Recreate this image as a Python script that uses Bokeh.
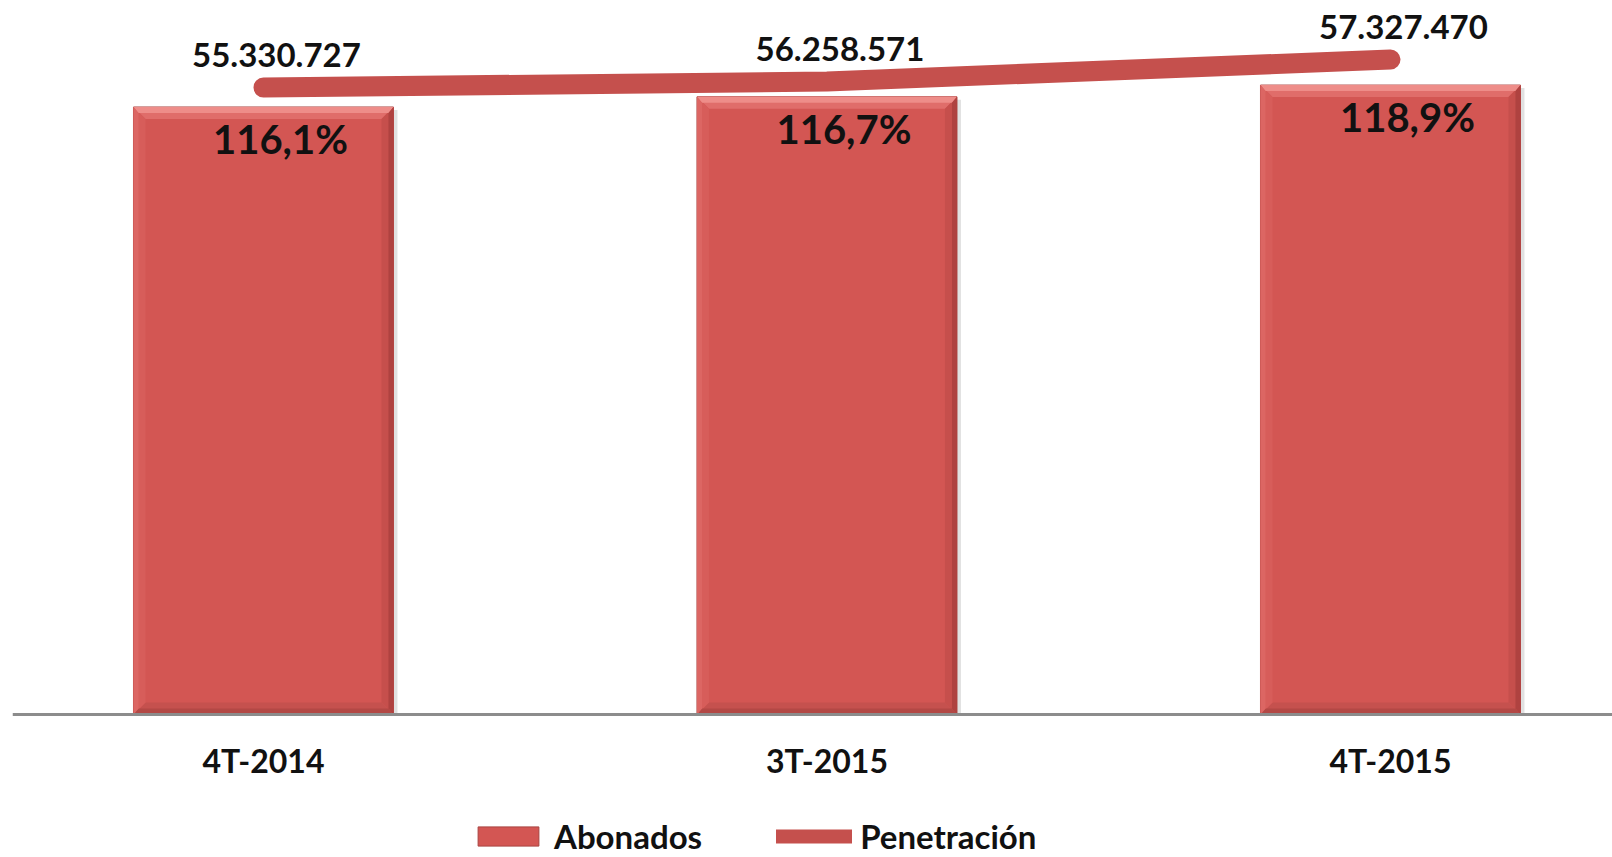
from bokeh.plotting import figure
from bokeh.models import Range1d, Legend, LegendItem, ColumnDataSource, Span
from bokeh.core.properties import value
from bokeh.embed import file_html
from bokeh.resources import INLINE

categories = ["4T-2014", "3T-2015", "4T-2015"]
abonados = [55330727, 56258571, 57327470]
penetracion = [116.1, 116.7, 118.9]
abonados_labels = ["55.330.727", "56.258.571", "57.327.470"]
penetracion_labels = ["116,1%", "116,7%", "118,9%"]

FONT = value("Lato")
xs = [i + 0.5 for i in range(len(categories))]

PX_X = 563.5        # pixels per x unit
PX_Y = 10.98e-6     # pixels per subscriber

p = figure(width=1612, height=857, output_backend="svg", toolbar_location=None,
           x_range=Range1d(0.0546, 2.894), y_range=Range1d(-13.02e6, 65.03e6),
           min_border_left=12, min_border_right=0, min_border_top=0, min_border_bottom=0)
p.extra_y_ranges = {"pen": Range1d(39.1, 124.8)}
p.outline_line_color = None
p.xgrid.visible = False
p.ygrid.visible = False
p.xaxis.visible = False
p.yaxis.visible = False
p.background_fill_color = "white"

bw = 0.4614
src = ColumnDataSource(dict(x=xs, top=abonados, lab=penetracion_labels, cat=categories,
                            zero=[0] * len(xs)))

# soft shadow to the right of bars
sh = 4 / PX_X
p.quad(left=[x + bw / 2 for x in xs], right=[x + bw / 2 + sh for x in xs],
       bottom=[0] * 3, top=[t - 3 / PX_Y for t in abonados],
       fill_color="#BDBDBD", fill_alpha=0.45, line_color=None)

# bars
bars = p.vbar(x="x", top="top", width=bw, bottom=0, source=src,
              fill_color="#D35653", line_color="#A94441", line_width=1)

# bevel shading computed from the bar data
def bevel(px_x, px_y):
    bx = px_x / PX_X
    by = px_y / PX_Y
    out = {k: [] for k in ("tx", "ty", "rx", "ry", "bx_", "by_", "lx", "ly")}
    for c, t in zip(xs, abonados):
        h = bw / 2
        out["tx"].append([c - h, c + h, c + h - bx, c - h + bx]); out["ty"].append([t, t, t - by, t - by])
        out["rx"].append([c + h, c + h, c + h - bx, c + h - bx]); out["ry"].append([t, 0, by, t - by])
        out["bx_"].append([c - h, c + h, c + h - bx, c - h + bx]); out["by_"].append([0, 0, by, by])
        out["lx"].append([c - h, c - h, c - h + bx, c - h + bx]); out["ly"].append([t, 0, by, t - by])
    return out

b1 = bevel(12, 12)
p.patches(b1["tx"], b1["ty"], fill_color="#E06D6A", line_color=None)
p.patches(b1["rx"], b1["ry"], fill_color="#C64F4C", line_color=None)
p.patches(b1["bx_"], b1["by_"], fill_color="#C5514E", line_color=None)
p.patches(b1["lx"], b1["ly"], fill_color="#D75D5A", line_color=None)
b2 = bevel(5, 6)
p.patches(b2["tx"], b2["ty"], fill_color="#EE8D89", line_color=None)
p.patches(b2["rx"], b2["ry"], fill_color="#AF4240", line_color=None)
p.patches(b2["bx_"], b2["by_"], fill_color="#B34845", line_color=None)
p.patches(b2["lx"], b2["ly"], fill_color="#DC6663", line_color=None)

# category baseline (x axis line)
p.add_layout(Span(location=0, dimension="width", line_color="#8C8C8C", line_width=3))

# line (a slimmer copy underneath supplies the legend swatch)
leg_line = p.line(xs, penetracion, y_range_name="pen", line_color="#C5504D",
                  line_width=14, line_cap="round", line_join="round")
line = p.line(xs, penetracion, y_range_name="pen", line_color="#C5504D",
              line_width=20, line_cap="round", line_join="round")

# labels
p.text(xs, penetracion, text=abonados_labels, y_range_name="pen",
       text_font=FONT, text_font_style="bold", text_font_size="33px",
       text_align="center", text_baseline="middle", x_offset=13, y_offset=-33,
       text_color="#111111")
p.text(x="x", y="top", text="lab", source=src,
       text_font=FONT, text_font_style="bold", text_font_size="40px",
       text_align="center", text_baseline="middle", x_offset=17, y_offset=32,
       text_color="#111111")
# category labels
p.text(x="x", y="zero", text="cat", source=src,
       text_font=FONT, text_font_style="bold", text_font_size="32px",
       text_align="center", text_baseline="middle", y_offset=46,
       text_color="#111111")

legend = Legend(items=[LegendItem(label="Abonados", renderers=[bars]),
                       LegendItem(label="Penetración", renderers=[leg_line])],
                orientation="horizontal", location=(458, 1),
                label_text_font="Lato", label_text_font_style="bold",
                label_text_font_size="33px", label_text_color="#111111",
                glyph_width=76, glyph_height=24, label_standoff=8, spacing=74,
                padding=0, margin=0, border_line_color=None,
                background_fill_alpha=0)
p.add_layout(legend, "center")

open("out.html", "w").write(file_html(p, INLINE))
